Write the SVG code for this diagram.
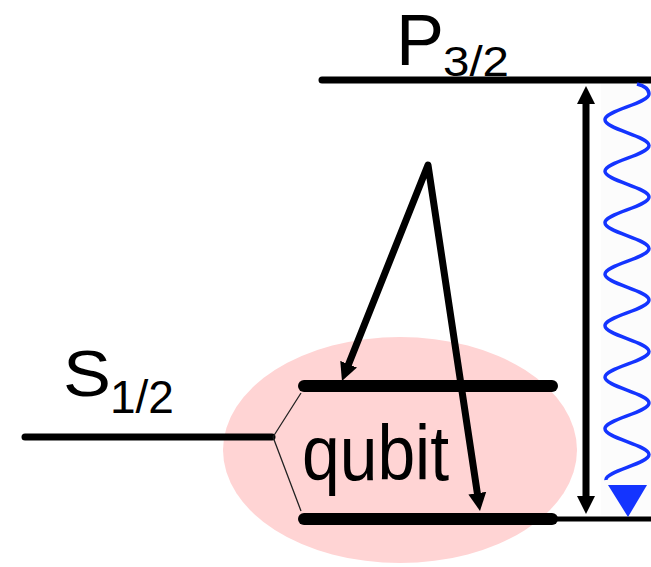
<svg xmlns="http://www.w3.org/2000/svg" width="651" height="567" viewBox="0 0 651 567">
  <style>
    .lbl { font-family: "Liberation Sans", Arial, sans-serif; fill: #000; }
    .lvl { stroke: #000; stroke-linecap: round; fill: none; }
    .conn { stroke: #000; fill: none; }
  </style>
  <defs>
    <marker id="head" markerUnits="userSpaceOnUse" viewBox="0 -10 18 20" refX="6" refY="0" markerWidth="18" markerHeight="20" orient="auto-start-reverse">
      <path d="M0,-9 L18,0 L0,9 Z" fill="#000"/>
    </marker>
  </defs>
  <rect width="651" height="567" fill="#fff"/>
  <rect x="601" y="83" width="50" height="432" fill="#fcfcfc"/>

  <g id="qubit-ellipse">
    <ellipse cx="400" cy="450" rx="177" ry="113" fill="#ffd4d4"/>
    <text class="lbl" x="302" y="480" font-size="78" textLength="147" lengthAdjust="spacingAndGlyphs">qubit</text>
  </g>

  <g id="P32">
    <line class="lvl" x1="322" y1="80" x2="651" y2="80" stroke-width="7" stroke-linecap="butt"/>
    <text class="lbl" x="396" y="65" font-size="72">P</text>
    <text class="lbl" x="443" y="76" font-size="42" textLength="66" lengthAdjust="spacingAndGlyphs">3/2</text>
  </g>

  <g id="S12">
    <line class="lvl" x1="25" y1="437" x2="272" y2="437" stroke-width="7"/>
    <text class="lbl" x="63" y="396" font-size="64" textLength="48" lengthAdjust="spacingAndGlyphs">S</text>
    <text class="lbl" x="110" y="413" font-size="46">1/2</text>
  </g>

  <g id="qubit-upper">
    <line class="lvl" x1="304" y1="386" x2="552" y2="386" stroke-width="12"/>
  </g>

  <g id="qubit-lower">
    <line x1="556" y1="519" x2="651" y2="519" stroke="#000" stroke-width="5"/>
    <line class="lvl" x1="304" y1="519" x2="552" y2="519" stroke-width="12"/>
  </g>

  <g id="connectors">
    <path d="M273,437 L301,393 M273,437 L301,511" stroke="#222" stroke-width="1.3" fill="none"/>
    <line class="conn" x1="586" y1="98" x2="586" y2="502" stroke-width="7" marker-start="url(#head)" marker-end="url(#head)"/>
    <path class="conn" d="M346.4,369.8 L428,165 L478.2,499.1" stroke-width="7" stroke-linejoin="round" marker-start="url(#head)" marker-end="url(#head)"/>
    <path d="M637,84 C645,86 649,89 649,94
      C649,103.4 605,110.4 605,119.75
      C605,129.1 649,136.1 649,145.5
      C649,154.9 605,161.9 605,171.25
      C605,180.6 649,187.6 649,197
      C649,206.4 605,213.4 605,222.75
      C605,232.1 649,239.1 649,248.5
      C649,257.9 605,264.9 605,274.25
      C605,283.6 649,290.6 649,300
      C649,309.4 605,316.4 605,325.75
      C605,335.1 649,342.1 649,351.5
      C649,360.9 605,367.9 605,377.25
      C605,386.6 649,393.6 649,403
      C649,412.4 605,419.4 605,428.75
      C605,438.1 649,445.1 649,454.5
      C649,463.9 605,470.9 606,480" stroke="#1434ff" stroke-width="3.5" fill="none"/>
    <polygon points="608,485 647,485 628,517" fill="#1434ff"/>
  </g>
</svg>
